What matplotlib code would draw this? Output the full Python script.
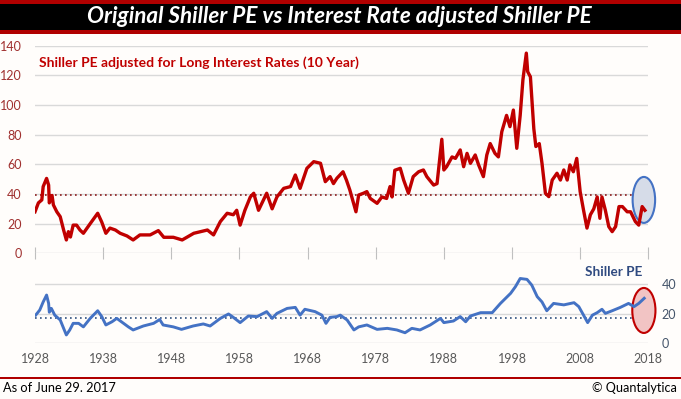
import matplotlib
matplotlib.use("Agg")
import matplotlib.pyplot as plt
from matplotlib.patches import Rectangle, Ellipse

# ---------------- data ----------------
red_years = [1928.0, 1928.5, 1929.0, 1929.2, 1929.7, 1930.0, 1930.1, 1930.5, 1930.7, 1931.2,
             1931.7, 1932.2, 1932.6, 1932.9, 1933.2, 1933.6, 1934.1, 1934.6, 1935.1, 1936.1,
             1937.2, 1937.8, 1938.4, 1939.0, 1939.8, 1940.5, 1941.5, 1942.4, 1943.4, 1944.9,
             1946.1, 1946.9, 1948.3, 1949.6, 1951.3, 1953.3, 1954.2, 1955.2, 1956.2, 1957.1,
             1957.6, 1958.1, 1958.8, 1959.6, 1960.1, 1960.8, 1962.0, 1962.8, 1963.5, 1964.5,
             1965.5, 1966.2, 1966.9, 1967.9, 1968.9, 1969.9, 1970.6, 1971.3, 1971.8, 1972.3,
             1973.2, 1973.7, 1974.2, 1975.1, 1975.5, 1976.2, 1976.7, 1977.2, 1978.2, 1978.9,
             1979.6, 1980.1, 1980.4, 1980.8, 1981.6, 1982.1, 1982.8, 1983.5, 1984.3, 1985.0,
             1985.5, 1986.5, 1987.0, 1987.7, 1988.0, 1988.4, 1989.2, 1989.7, 1990.4, 1990.9,
             1991.4, 1991.9, 1992.6, 1993.1, 1993.8, 1994.3, 1994.8, 1995.5, 1996.0, 1996.5,
             1997.2, 1997.7, 1998.2, 1998.7, 1999.2, 1999.6, 2000.1, 2000.3, 2000.7, 2001.2,
             2001.5, 2002.0, 2002.4, 2002.9, 2003.4, 2003.9, 2004.6, 2005.1, 2005.6, 2006.1,
             2006.5, 2007.0, 2007.5, 2008.0, 2008.5, 2009.0, 2009.5, 2010.0, 2010.5, 2010.9,
             2011.2, 2011.7, 2012.2, 2012.7, 2013.2, 2013.7, 2014.2, 2014.9, 2015.4, 2016.1,
             2016.6, 2017.1, 2017.5]
red_values = [28, 34, 36, 45, 50.5, 46, 34, 39, 32.6, 28,
              24.7, 15.7, 9, 14.6, 11, 19, 19, 15.7, 13.5, 20,
              27, 21, 13.5, 17, 15.7, 13.5, 11.7, 9, 12.4, 12.4,
              15.3, 10.8, 10.8, 9, 13.5, 15.7, 12.4, 21.4, 27, 26,
              29, 19, 29, 38, 40.5, 29, 40.5, 30, 38, 43.8,
              45, 52.8, 43.8, 57.3, 61.8, 60.7, 48.3, 51.7, 47, 50.6,
              55, 49.4, 42.7, 28, 39.3, 40.5, 41.6, 37, 33.7, 38,
              37, 45, 38, 56, 57.3, 49.4, 40.5, 51.7, 55, 56.2,
              51.7, 46, 47, 76.9, 56.2, 58.4, 65, 64, 69.7, 58.4,
              67.4, 60.7, 66.3, 59.6, 51.7, 66.3, 74, 67.4, 65, 82,
              93, 85.4, 96.6, 70.8, 93, 117, 135, 122.5, 119, 84,
              72, 74, 60.7, 40.5, 38.2, 49.4, 54, 49.4, 56.2, 49.4,
              59.6, 55, 64, 41.6, 29, 17, 26, 30, 38, 23.6,
              38, 29, 18, 14.6, 18, 31.5, 31.5, 28, 28, 21.4,
              19, 31.5, 29]

blue_years = [1928.1, 1928.7, 1929.2, 1929.7, 1930.0, 1930.1, 1930.4, 1930.9, 1931.7, 1932.2,
              1932.6, 1933.1, 1933.6, 1934.4, 1935.1, 1936.1, 1937.2, 1937.8, 1938.4, 1939.3,
              1940.0, 1941.0, 1941.7, 1942.4, 1943.9, 1945.4, 1946.3, 1946.8, 1948.3, 1949.5,
              1951.2, 1952.7, 1953.7, 1955.2, 1956.4, 1957.1, 1958.1, 1959.3, 1960.6, 1962.0,
              1962.8, 1963.5, 1965.0, 1966.2, 1966.9, 1967.6, 1969.1, 1970.1, 1970.7, 1971.3,
              1972.3, 1972.8, 1973.8, 1974.8, 1975.5, 1976.7, 1978.2, 1979.7, 1981.1, 1982.3,
              1983.3, 1984.5, 1986.0, 1987.5, 1988.0, 1989.4, 1990.4, 1991.2, 1991.9, 1993.4,
              1995.1, 1996.3, 1997.8, 1998.5, 1999.2, 2000.2, 2000.9, 2001.7, 2002.4, 2003.1,
              2004.1, 2005.6, 2007.1, 2007.8, 2008.5, 2009.1, 2009.8, 2010.5, 2011.2, 2011.7,
              2012.7, 2013.9, 2015.1, 2015.9, 2016.6, 2017.4]
blue_values = [19, 22.5, 28, 32.7, 27, 21, 23.6, 19, 15.7, 10,
               5.5, 8.9, 13.4, 13.4, 11, 16.8, 22, 18, 12.3, 14.5,
               16.8, 13.4, 11, 8.9, 11.6, 13.4, 16, 12.3, 11, 9.3,
               11.6, 13, 11.6, 16.8, 19.8, 17.5, 13.9, 18.4, 18, 21.4,
               16.8, 20.2, 23.6, 24.3, 19, 23, 21.4, 19, 13.4, 17.5,
               18, 19, 15.7, 8.9, 11, 12.3, 9.3, 10, 8.9, 7,
               10, 8.9, 12.3, 16.8, 13.9, 15, 18, 14.5, 18.4, 20.7,
               20.7, 27, 33.9, 38.4, 44, 43.4, 39.5, 31.6, 28, 22,
               27, 26, 27.5, 24.8, 19, 13.9, 19, 20.7, 23, 20.2,
               22, 24.3, 27, 24.8, 27, 30.5]

red_mean = 39
blue_mean = 17
x_ticks = [1928, 1938, 1948, 1958, 1968, 1978, 1988, 1998, 2008, 2018]
top_yticks = [0, 20, 40, 60, 80, 100, 120, 140]
bottom_yticks = [0, 20, 40]

title = "Original Shiller PE vs Interest Rate adjusted Shiller PE"
subtitle = "Shiller PE adjusted for Long Interest Rates (10 Year)"
blue_label = "Shiller PE"
footer_left = "As of June 29. 2017"
footer_right = "\u00a9 Quantalytica"

# ---------------- style ----------------
W, H = 681, 399
BG = "#FFFDFB"
RED = "#C00000"
BLUE = "#4472C4"
GRID = "#D9D9D9"
FONT = "Lato"

fig = plt.figure(figsize=(W / 100, H / 100), dpi=100, facecolor=BG)

def fx(px):
    return px / W

def fy(py):
    return 1 - py / H

# title bar
fig.patches.append(Rectangle((0, fy(34)), 1, 34 / H, transform=fig.transFigure,
                             facecolor="#B00000", edgecolor="none", zorder=0))
fig.patches.append(Rectangle((0, fy(29.5)), 1, 26 / H, transform=fig.transFigure,
                             facecolor="black", edgecolor="none", zorder=1))
# footer line
fig.patches.append(Rectangle((0, fy(379)), 1, 2 / H, transform=fig.transFigure,
                             facecolor="#B00000", edgecolor="none", zorder=1))

ax_left, ax_right = 35, 648.3
ax1 = fig.add_axes([fx(ax_left), fy(253.3), fx(ax_right - ax_left), (253.3 - 45.7) / H])
ax2 = fig.add_axes([fx(ax_left), fy(343), fx(ax_right - ax_left), (343 - 269.7) / H])

for ax in (ax1, ax2):
    ax.set_facecolor("none")
    for s in ax.spines.values():
        s.set_visible(False)
    ax.set_xlim(1928, 2018)
    ax.set_xticks(x_ticks)
    ax.grid(axis="y", color=GRID, linewidth=1)
    ax.set_axisbelow(True)

# top chart
ax1.plot(red_years, red_values, color=RED, linewidth=2.4, solid_joinstyle="round", zorder=3)
ax1.axhline(red_mean, color="#8B1A1A", linestyle=(0, (1, 2)), linewidth=1.2, zorder=2)
ax1.set_ylim(0, 140)
ax1.set_yticks(top_yticks)
ax1.tick_params(axis="y", length=0, pad=9.5, labelsize=9, labelcolor="#A0302F")
ax1.tick_params(axis="x", direction="inout", length=8, color="#BFBFBF", labelbottom=False)
for lab in ax1.get_yticklabels():
    lab.set_fontfamily(FONT)
ax1.add_patch(Ellipse((2017.35, 36), 3.3, 31, facecolor="#D6DCE8", edgecolor=BLUE,
                      linewidth=1.5, zorder=2.5, clip_on=False))

# bottom chart
ax2.plot(blue_years, blue_values, color=BLUE, linewidth=2.1, zorder=3)
ax2.axhline(blue_mean, color="#2F4F7F", linestyle=(0, (1, 2)), linewidth=1.2, zorder=2)
ax2.set_ylim(0, 50)
ax2.set_yticks(bottom_yticks)
ax2.yaxis.tick_right()
ax2.tick_params(axis="y", length=0, pad=9.5, labelsize=9, labelcolor="#44546A")
ax2.tick_params(axis="x", length=0, pad=7, labelsize=9, labelcolor="#595959")
for lab in ax2.get_yticklabels() + ax2.get_xticklabels():
    lab.set_fontfamily(FONT)
ax2.add_patch(Ellipse((2017.35, 22.2), 3.4, 30.7, facecolor="#F2C4C4", edgecolor=RED,
                      linewidth=1.5, zorder=2.5, clip_on=False))

# texts
renderer = fig.canvas.get_renderer()

def fit(t, target_px):
    w = t.get_window_extent(renderer).width
    t.set_fontsize(t.get_fontsize() * target_px / w)

t_title = fig.text(fx(339.5), fy(16.5), title, color="white", fontsize=14, fontweight="bold",
                   fontstyle="italic", family=FONT, ha="center", va="center")
fit(t_title, 504)
t_sub = fig.text(fx(39), fy(62.5), subtitle, color=RED, fontsize=9, fontweight="bold",
                 family=FONT, ha="left", va="center")
fit(t_sub, 318)
t_blue = fig.text(fx(642), fy(272.5), blue_label, color="#2F4A80", fontsize=10, fontweight="bold",
                  family=FONT, ha="right", va="center")
fit(t_blue, 57)
t_fl = fig.text(fx(3), fy(388), footer_left, color="black", fontsize=9, family=FONT,
                ha="left", va="center")
fit(t_fl, 113)
t_fr = fig.text(fx(677), fy(388), footer_right, color="black", fontsize=9, family=FONT,
                ha="right", va="center")
fit(t_fr, 85)

fig.savefig("out.png", dpi=100, facecolor=BG)
